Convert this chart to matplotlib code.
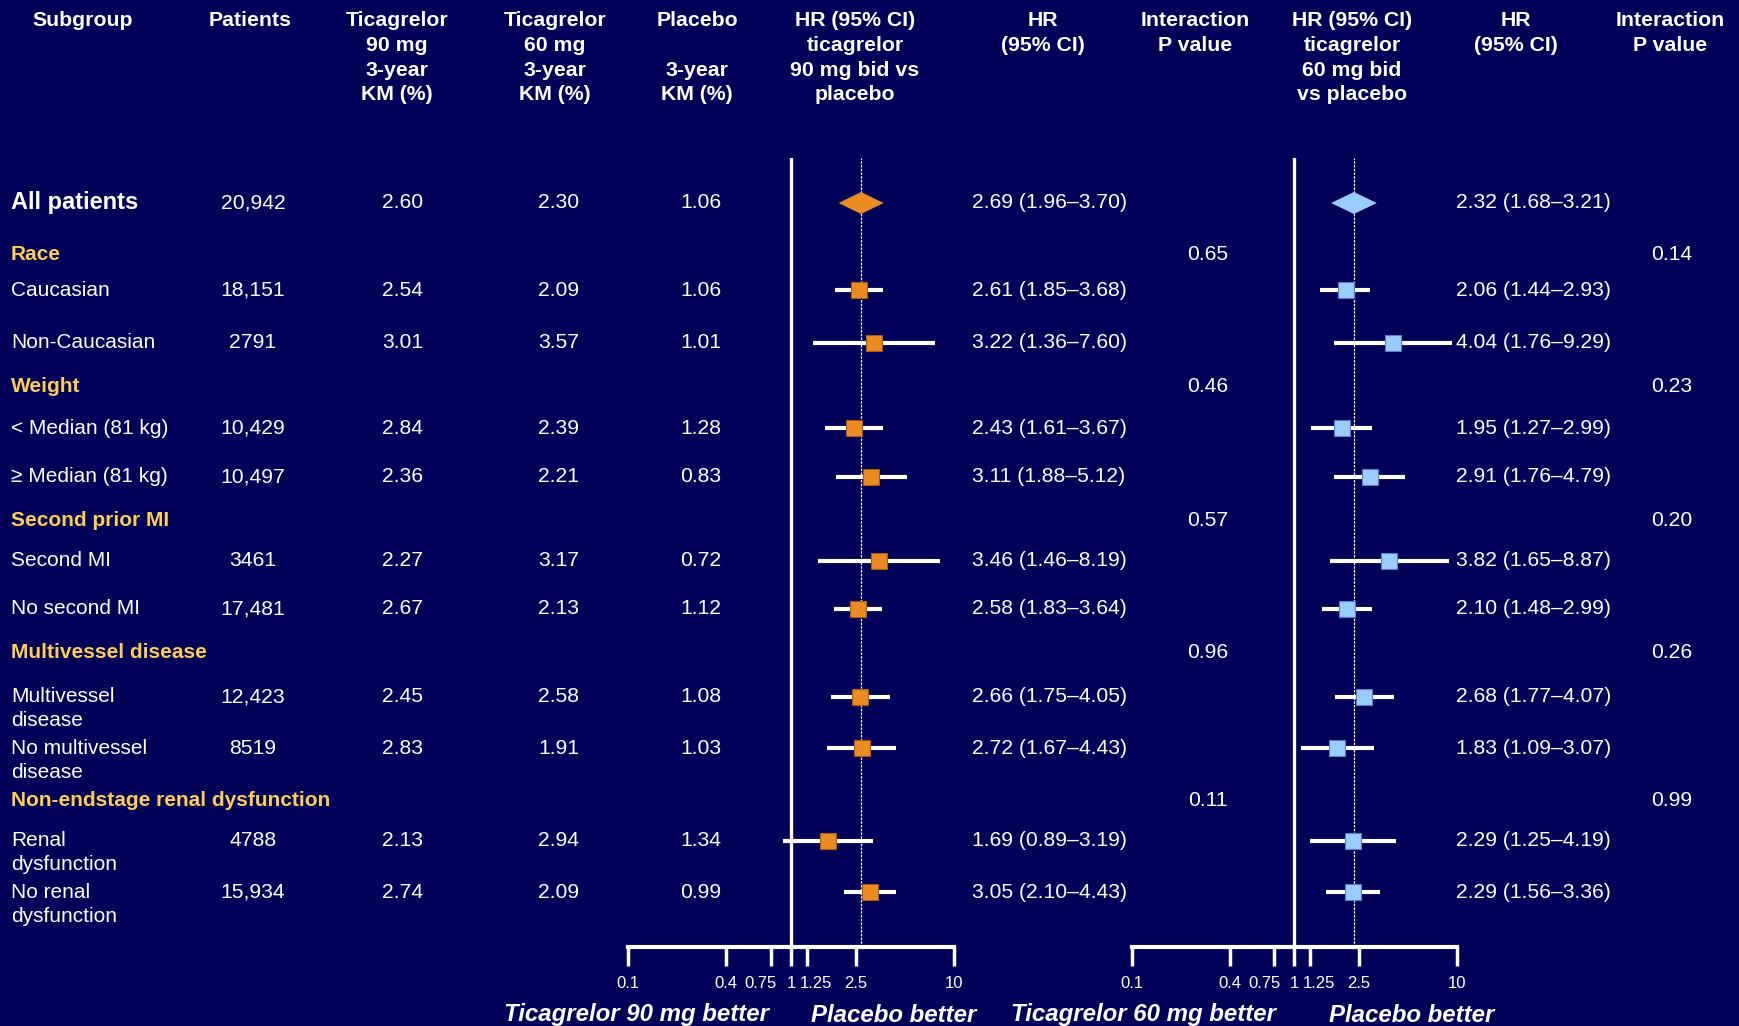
import matplotlib
matplotlib.use("Agg")
import matplotlib.pyplot as plt
from matplotlib.transforms import ScaledTranslation

# ---------------------------------------------------------------
# Data
# ---------------------------------------------------------------
row_labels = ["All patients", "Race", "Caucasian", "Non-Caucasian", "Weight",
              "< Median (81 kg)", "\u2265 Median (81 kg)", "Second prior MI",
              "Second MI", "No second MI", "Multivessel disease",
              "Multivessel\ndisease", "No multivessel\ndisease",
              "Non-endstage renal dysfunction", "Renal\ndysfunction",
              "No renal\ndysfunction"]
row_kind = ["all", "cat", "sub", "sub", "cat", "sub", "sub", "cat", "sub", "sub",
            "cat", "sub", "sub", "cat", "sub", "sub"]

patients = [20942, 18151, 2791, 10429, 10497, 3461, 17481, 12423, 8519, 4788, 15934]
km_90 = [2.60, 2.54, 3.01, 2.84, 2.36, 2.27, 2.67, 2.45, 2.83, 2.13, 2.74]
km_60 = [2.30, 2.09, 3.57, 2.39, 2.21, 3.17, 2.13, 2.58, 1.91, 2.94, 2.09]
km_pbo = [1.06, 1.06, 1.01, 1.28, 0.83, 0.72, 1.12, 1.08, 1.03, 1.34, 0.99]

hr_90 = [2.69, 2.61, 3.22, 2.43, 3.11, 3.46, 2.58, 2.66, 2.72, 1.69, 3.05]
lo_90 = [1.96, 1.85, 1.36, 1.61, 1.88, 1.46, 1.83, 1.75, 1.67, 0.89, 2.10]
hi_90 = [3.70, 3.68, 7.60, 3.67, 5.12, 8.19, 3.64, 4.05, 4.43, 3.19, 4.43]

hr_60 = [2.32, 2.06, 4.04, 1.95, 2.91, 3.82, 2.10, 2.68, 1.83, 2.29, 2.29]
lo_60 = [1.68, 1.44, 1.76, 1.27, 1.76, 1.65, 1.48, 1.77, 1.09, 1.25, 1.56]
hi_60 = [3.21, 2.93, 9.29, 2.99, 4.79, 8.87, 2.99, 4.07, 3.07, 4.19, 3.36]

p_int_90 = [0.65, 0.46, 0.57, 0.96, 0.11]
p_int_60 = [0.14, 0.23, 0.20, 0.26, 0.99]

x_ticks = [0.1, 0.4, 0.75, 1, 1.25, 2.5, 10]
x_tick_labels = ["0.1", "0.4", "0.75", "1", "1.25", "2.5", "10"]

# ---------------------------------------------------------------
# Layout (pixel coordinates, figure 1740 x 1026)
# ---------------------------------------------------------------
W, H = 1740, 1026
row_y = [203, 254, 290, 343, 386, 428, 477, 520, 561, 609, 653, 697, 748, 800, 841, 892]

BG = "#000058"
ORANGE = "#EA8C22"
ORANGE_BD = "#A85A10"
BLUE = "#99CCFF"
BLUE_BD = "#5A7FC0"
YELLOW = "#FFCC55"
WHITE = "white"

plt.rcParams["font.family"] = ["Liberation Sans", "DejaVu Sans"]

fig = plt.figure(figsize=(W / 100, H / 100), dpi=100)
fig.patch.set_facecolor(BG)
ax = fig.add_axes([0, 0, 1, 1])
ax.set_xlim(0, W)
ax.set_ylim(H, 0)
ax.axis("off")
ax.set_facecolor(BG)

# ---------------------------------------------------------------
# Headers
# ---------------------------------------------------------------
headers = [
    (83, "Subgroup"),
    (250, "Patients"),
    (397, "Ticagrelor\n90 mg\n3-year\nKM (%)"),
    (555, "Ticagrelor\n60 mg\n3-year\nKM (%)"),
    (697, "Placebo\n\n3-year\nKM (%)"),
    (855, "HR (95% CI)\nticagrelor\n90 mg bid vs\nplacebo"),
    (1043, "HR\n(95% CI)"),
    (1195, "Interaction\nP value"),
    (1352, "HR (95% CI)\nticagrelor\n60 mg bid\nvs placebo"),
    (1516, "HR\n(95% CI)"),
    (1670, "Interaction\nP value"),
]
for hx, htxt in headers:
    for i, line in enumerate(htxt.split("\n")):
        ax.text(hx, 21 + i * 24.5, line, ha="center", va="center",
                fontsize=15.3, fontweight="bold", color=WHITE)

# ---------------------------------------------------------------
# Rows of text
# ---------------------------------------------------------------
def fmt_n(n):
    return f"{n:,}" if n >= 10000 else str(n)

FS = 15.2
k = 0   # index into numeric rows
c = 0   # index into categories
data_rows = []
for lbl, kind, y in zip(row_labels, row_kind, row_y):
    if kind == "cat":
        ax.text(11, y, lbl, ha="left", va="center", fontsize=15,
                fontweight="bold", color=YELLOW)
        ax.text(1208, y, f"{p_int_90[c]:.2f}", ha="center", va="center",
                fontsize=FS, color=WHITE)
        ax.text(1672, y, f"{p_int_60[c]:.2f}", ha="center", va="center",
                fontsize=FS, color=WHITE)
        c += 1
        continue
    if kind == "all":
        ax.text(11, y, lbl, ha="left", va="center", fontsize=17,
                fontweight="bold", color=WHITE)
    else:
        for i, line in enumerate(lbl.split("\n")):
            ax.text(11, y + i * 24, line, ha="left", va="center",
                    fontsize=15, color=WHITE)
    ax.text(253, y, fmt_n(patients[k]), ha="center", va="center", fontsize=FS, color=WHITE)
    ax.text(403, y, f"{km_90[k]:.2f}", ha="center", va="center", fontsize=FS, color=WHITE)
    ax.text(559, y, f"{km_60[k]:.2f}", ha="center", va="center", fontsize=FS, color=WHITE)
    ax.text(701, y, f"{km_pbo[k]:.2f}", ha="center", va="center", fontsize=FS, color=WHITE)
    ax.text(972, y, f"{hr_90[k]:.2f} ({lo_90[k]:.2f}\u2013{hi_90[k]:.2f})",
            ha="left", va="center", fontsize=FS, color=WHITE)
    ax.text(1456, y, f"{hr_60[k]:.2f} ({lo_60[k]:.2f}\u2013{hi_60[k]:.2f})",
            ha="left", va="center", fontsize=FS, color=WHITE)
    data_rows.append(y)
    k += 1

# ---------------------------------------------------------------
# Forest panels
# ---------------------------------------------------------------
Y_TOP, Y_AXIS = 158, 947
label_shift_px = [0, 0, -10, 0, 9, 0, 0]   # nudge crowded labels around 1

def forest(x0, x1, hr, lo, hi, color, edge):
    fa = fig.add_axes([x0 / W, 1 - Y_AXIS / H, (x1 - x0) / W, (Y_AXIS - Y_TOP) / H])
    fa.set_facecolor("none")
    fa.set_xscale("log")
    fa.set_xlim(0.1, 10)
    fa.set_ylim(Y_AXIS, Y_TOP)
    for s in ["top", "left", "right"]:
        fa.spines[s].set_visible(False)
    fa.spines["bottom"].set_color(WHITE)
    fa.spines["bottom"].set_linewidth(3)
    fa.set_yticks([])
    fa.minorticks_off()
    fa.set_xticks(x_ticks)
    fa.set_xticklabels(x_tick_labels)
    fa.tick_params(axis="x", which="major", direction="out", length=14, width=2.5,
                   colors=WHITE, labelsize=12, pad=7)
    fa.tick_params(axis="x", which="minor", length=0)
    for lab, dx in zip(fa.get_xticklabels(), label_shift_px):
        if dx:
            lab.set_transform(lab.get_transform() +
                              ScaledTranslation(dx / 100, 0, fig.dpi_scale_trans))

    # line of no effect and overall estimate
    fa.axvline(1, color=WHITE, lw=2.4, zorder=1)
    fa.axvline(hr[0], color=WHITE, lw=0.9, ls=(0, (2, 1)), zorder=1)

    # overall diamond
    y0 = data_rows[0]
    fa.fill([lo[0], hr[0], hi[0], hr[0]], [y0, y0 - 11, y0, y0 + 11],
            color=color, zorder=4, lw=0)

    # subgroups
    for h, l, u, y in zip(hr[1:], lo[1:], hi[1:], data_rows[1:]):
        fa.plot([l, u], [y, y], color=WHITE, lw=3, solid_capstyle="butt", zorder=2)
        fa.plot([h], [y], marker="s", ms=11, color=color, mec=edge, mew=0.8, zorder=3)
    return fa

forest(628, 954, hr_90, lo_90, hi_90, ORANGE, ORANGE_BD)
forest(1132, 1457, hr_60, lo_60, hi_60, BLUE, BLUE_BD)

# ---------------------------------------------------------------
# Bottom labels
# ---------------------------------------------------------------
for bx, ha, txt in [(769, "right", "Ticagrelor 90 mg better"),
                    (811, "left", "Placebo better"),
                    (1276, "right", "Ticagrelor 60 mg better"),
                    (1329, "left", "Placebo better")]:
    ax.text(bx, 1015, txt, ha=ha, va="center", fontsize=17.3,
            fontweight="bold", fontstyle="italic", color=WHITE)

fig.savefig("out.png", dpi=100, facecolor=fig.get_facecolor())
